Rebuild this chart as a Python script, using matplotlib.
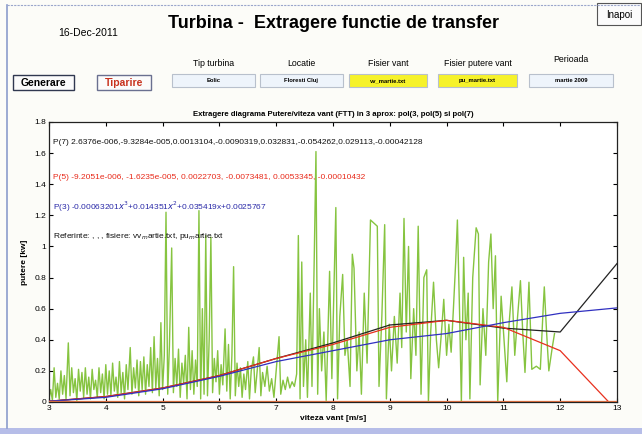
import matplotlib
matplotlib.use("Agg")
import matplotlib.pyplot as plt
from matplotlib.patches import Rectangle
from matplotlib.ticker import FuncFormatter

plt.rcParams['font.family'] = ['Liberation Sans', 'DejaVu Sans']

wind = [3.00, 3.03, 3.06, 3.09, 3.12, 3.15, 3.18, 3.21, 3.24, 3.27, 3.30, 3.34, 3.37, 3.40, 3.43,
        3.46, 3.49, 3.52, 3.55, 3.58, 3.61, 3.64, 3.67, 3.70, 3.73, 3.76, 3.79, 3.82, 3.85, 3.88,
        3.91, 3.94, 3.97, 4.00, 4.03, 4.06, 4.09, 4.12, 4.15, 4.18, 4.21, 4.24, 4.27, 4.30, 4.33,
        4.36, 4.39, 4.43, 4.46, 4.49, 4.52, 4.55, 4.58, 4.61, 4.64, 4.67, 4.70, 4.73, 4.76, 4.79,
        4.82, 4.85, 4.88, 4.91, 4.94, 4.97, 5.00, 5.03, 5.06, 5.09, 5.12, 5.16, 5.19, 5.22, 5.25,
        5.28, 5.31, 5.34, 5.37, 5.40, 5.43, 5.46, 5.49, 5.52, 5.55, 5.58, 5.61, 5.64, 5.67, 5.70,
        5.73, 5.76, 5.79, 5.82, 5.85, 5.88, 5.91, 5.94, 5.97, 6.00, 6.03, 6.06, 6.10, 6.13, 6.16,
        6.19, 6.22, 6.25, 6.28, 6.31, 6.34, 6.37, 6.40, 6.43, 6.46, 6.50, 6.53, 6.56, 6.60, 6.63,
        6.67, 6.70, 6.73, 6.76, 6.80, 6.84, 6.88, 6.92, 6.96, 7.00, 7.05, 7.08, 7.12, 7.16, 7.20,
        7.24, 7.28, 7.32, 7.36, 7.39, 7.42, 7.45, 7.48, 7.52, 7.55, 7.60, 7.63, 7.67, 7.70, 7.73,
        7.76, 7.80, 7.84, 7.88, 7.94, 7.98, 8.05, 8.08, 8.12, 8.17, 8.21, 8.25, 8.30, 8.34, 8.37,
        8.42, 8.46, 8.50, 8.55, 8.60, 8.66, 8.72, 8.78, 8.81, 8.86, 8.91, 8.94, 8.99, 9.03, 9.08,
        9.13, 9.18, 9.21, 9.25, 9.29, 9.33, 9.37, 9.42, 9.46, 9.50, 9.55, 9.60, 9.65, 9.68, 9.72,
        9.77, 9.82, 9.86, 9.91, 9.95, 10.00, 10.04, 10.08, 10.12, 10.16, 10.19, 10.23, 10.26, 10.30, 10.34,
        10.38, 10.41, 10.46, 10.52, 10.56, 10.59, 10.64, 10.69, 10.74, 10.78, 10.82, 10.86, 10.90, 10.96, 11.01,
        11.06, 11.10, 11.15, 11.20, 11.25, 11.30, 11.34, 11.38, 11.45, 11.50, 11.58, 11.65, 11.70, 11.72, 11.76,
        11.80, 11.86, 11.90]
power = [0.02, 0.08, 0.01, 0.22, 0.03, 0.12, 0.02, 0.20, 0.05, 0.17, 0.02, 0.38, 0.04, 0.22, 0.06,
         0.15, 0.01, 0.21, 0.07, 0.19, 0.03, 0.22, 0.05, 0.16, 0.02, 0.21, 0.08, 0.14, 0.03, 0.22,
         0.06, 0.18, 0.02, 0.24, 0.05, 0.20, 0.04, 0.25, 0.07, 0.16, 0.03, 0.26, 0.06, 0.19, 0.02,
         0.24, 0.08, 0.35, 0.05, 0.22, 0.09, 0.27, 0.04, 0.26, 0.08, 0.29, 0.05, 0.24, 0.10, 0.35,
         0.06, 0.42, 0.09, 0.28, 0.04, 0.51, 0.08, 0.30, 1.22, 0.05, 0.36, 0.99, 0.06, 0.28, 0.10,
         0.34, 0.03, 0.25, 0.12, 0.30, 0.02, 0.48, 0.08, 0.33, 0.05, 0.27, 0.10, 1.23, 0.02, 0.60,
         0.05, 1.07, 0.04, 0.40, 1.06, 0.06, 0.28, 0.13, 0.33, 0.05, 0.24, 0.11, 0.47, 0.07, 0.37,
         0.02, 0.30, 0.87, 0.04, 0.25, 0.10, 0.22, 0.03, 0.18, 0.08, 0.26, 0.02, 0.20, 0.29, 0.06,
         0.22, 0.35, 0.04, 0.19, 0.10, 0.23, 0.07, 0.15, 0.03, 0.20, 0.42, 0.05, 0.14, 0.08, 0.16,
         0.09, 0.13, 0.10, 0.18, 1.07, 0.02, 0.90, 0.10, 0.40, 0.03, 0.70, 0.10, 0.93, 1.61, 0.05,
         0.60, 0.20, 0.45, 0.01, 0.84, 0.15, 1.25, 0.02, 0.55, 0.82, 0.30, 0.40, 0.10, 0.95, 0.86,
         0.20, 0.45, 0.05, 0.70, 0.25, 1.17, 1.15, 1.13, 0.10, 0.55, 1.14, 0.02, 0.50, 0.20, 0.55,
         0.25, 0.70, 0.35, 1.18, 0.45, 1.00, 0.15, 0.60, 0.30, 1.13, 0.05, 0.80, 0.85, 0.00, 0.45,
         0.77, 0.40, 0.22, 0.45, 0.66, 0.30, 0.50, 0.32, 0.60, 0.90, 1.17, 0.55, 0.00, 0.93, 0.40,
         0.70, 0.02, 0.80, 1.12, 1.08, 0.11, 0.60, 0.30, 0.90, 1.08, 0.60, 0.94, 0.00, 0.68, 0.40,
         0.13, 0.50, 0.74, 0.30, 0.55, 0.78, 0.45, 0.19, 0.77, 0.21, 0.23, 0.21, 0.60, 0.74, 0.45,
         0.20, 0.35, 0.44]

# fitted curves evaluated at integer speeds
speeds = [3, 4, 5, 6, 7, 8, 9, 10, 11, 12, 13]
pol7 = [0.005, 0.035, 0.09, 0.17, 0.28, 0.38, 0.495, 0.525, 0.475, 0.45, 0.89]
pol5 = [0.005, 0.035, 0.09, 0.17, 0.28, 0.37, 0.48, 0.525, 0.48, 0.33, -0.056]
pol3 = [0.005, 0.03, 0.085, 0.165, 0.26, 0.33, 0.40, 0.44, 0.51, 0.57, 0.605]

txt7 = "P(7) 2.6376e-006,-9.3284e-005,0.0013104,-0.0090319,0.032831,-0.054262,0.029113,-0.00042128"
txt5 = "P(5) -9.2051e-006, -1.6235e-005, 0.0022703, -0.0073481, 0.0053345, -0.00010432"
txt3 = r"P(3) -0.00063201$x^3$+0.014351$x^2$+0.035419x+0.0025767"
txtref = r"Referinte: , , , fisiere: vv$_m$artie.txt, pu$_m$artie.txt"

field_labels = ["Tip turbina", "Locatie", "Fisier vant", "Fisier putere vant", "Perioada"]
field_values = ["Eolic", "Floresti Cluj", "vv_martie.txt", "pu_martie.txt", "martie 2009"]
field_colors = ["#eef4fb", "#eef4fb", "#f6f22a", "#f6f22a", "#eef4fb"]

W, H = 642, 434
fig = plt.figure(figsize=(W / 100, H / 100), dpi=100, facecolor="#fcfcf8")

# GUI panel drawn in pixel coordinates
gui = fig.add_axes([0, 0, 1, 1])
gui.set_xlim(0, W)
gui.set_ylim(H, 0)
gui.axis("off")
gui.plot([7, 7], [5, 428], color="#8c9ccc", lw=1.2)
gui.plot([7, 640], [5, 5], color="#9aa6cc", lw=0.8, ls=(0, (2, 1)))
gui.add_patch(Rectangle((0, 428), W, 6, color="#b6bde8", lw=0))

gui.text(88, 33, "16-Dec-2011", fontsize=7.5, ha="center", va="center")
gui.text(333, 24, "Turbina -  Extragere functie de transfer", fontsize=13, fontweight="bold",
         ha="center", va="center")

gui.add_patch(Rectangle((597, 3), 44, 22, facecolor="#fbfbfb", edgecolor="#555555", lw=0.8))
gui.text(619, 15, "Inapoi", fontsize=7, ha="center", va="center")

gui.add_patch(Rectangle((13, 75), 61, 15, facecolor="#fbfbfb", edgecolor="#303850", lw=1.0))
gui.text(43.5, 83, "Generare", fontsize=7.5, fontweight="bold", ha="center", va="center")
gui.add_patch(Rectangle((97, 75), 54, 15, facecolor="#fbfbfb", edgecolor="#6a7090", lw=1.0))
gui.text(124, 83, "Tiparire", fontsize=7.5, fontweight="bold", color="#c8321e",
         ha="center", va="center")

box_x = [172, 260, 349, 438, 529]
box_w = [83, 83, 78, 79, 84]
label_y = [63, 63, 63, 63, 60]
for bx, bw, ly, lab, val, col in zip(box_x, box_w, label_y, field_labels, field_values, field_colors):
    gui.add_patch(Rectangle((bx, 74), bw, 13, facecolor=col, edgecolor="#b8c0cc", lw=0.8))
    gui.text(bx + bw / 2, ly, lab, fontsize=6.3, ha="center", va="center")
    gui.text(bx + bw / 2, 80.5, val, fontsize=4.2, fontweight="bold", ha="center", va="center")

# plot area
ax = fig.add_axes([49 / W, 1 - 402 / H, 568 / W, 280 / H])
ax.set_facecolor("white")
ax.plot(wind, power, color="#86c440", lw=1.0, zorder=2)
ax.plot(speeds, pol7, color="#222222", lw=0.9, zorder=3)
ax.plot(speeds, pol5, color="#e8301e", lw=0.9, zorder=3)
ax.plot(speeds, pol3, color="#3030c0", lw=0.9, zorder=3)
ax.plot([3, 13], [0.004, 0.004], color="#e86a2a", lw=0.9, zorder=3)
ax.plot([3, 13], [0.0, 0.0], color="#3a78d8", lw=0.9, zorder=3)

ax.set_xlim(3, 13)
ax.set_ylim(0, 1.8)
ax.set_xticks(range(3, 14))
ax.set_yticks([0, 0.2, 0.4, 0.6, 0.8, 1.0, 1.2, 1.4, 1.6, 1.8])
ax.yaxis.set_major_formatter(FuncFormatter(lambda v, p: "%g" % round(v, 1)))
ax.tick_params(direction="in", top=True, right=True, length=3, width=0.8, labelsize=6, pad=2)
for s in ax.spines.values():
    s.set_linewidth(0.9)
    s.set_color("#222222")

ax.set_title("Extragere diagrama Putere/viteza vant (FTT) in 3 aprox: pol(3, pol(5) si pol(7)",
             fontsize=5.6, fontweight="bold", pad=4)
ax.set_xlabel("viteza vant [m/s]", fontsize=6, fontweight="bold", labelpad=2)
ax.set_ylabel("putere [kw]", fontsize=6, fontweight="bold", labelpad=5)

ax.text(3.07, 1.67, txt7, fontsize=6, color="#111111", va="center")
ax.text(3.07, 1.446, txt5, fontsize=6, color="#e82a1a", va="center")
ax.text(3.07, 1.253, txt3, fontsize=6, color="#2a2aa8", va="center")
ax.text(3.07, 1.067, txtref, fontsize=6, color="#111111", va="center")

fig.savefig("out.png", dpi=100, facecolor=fig.get_facecolor())
